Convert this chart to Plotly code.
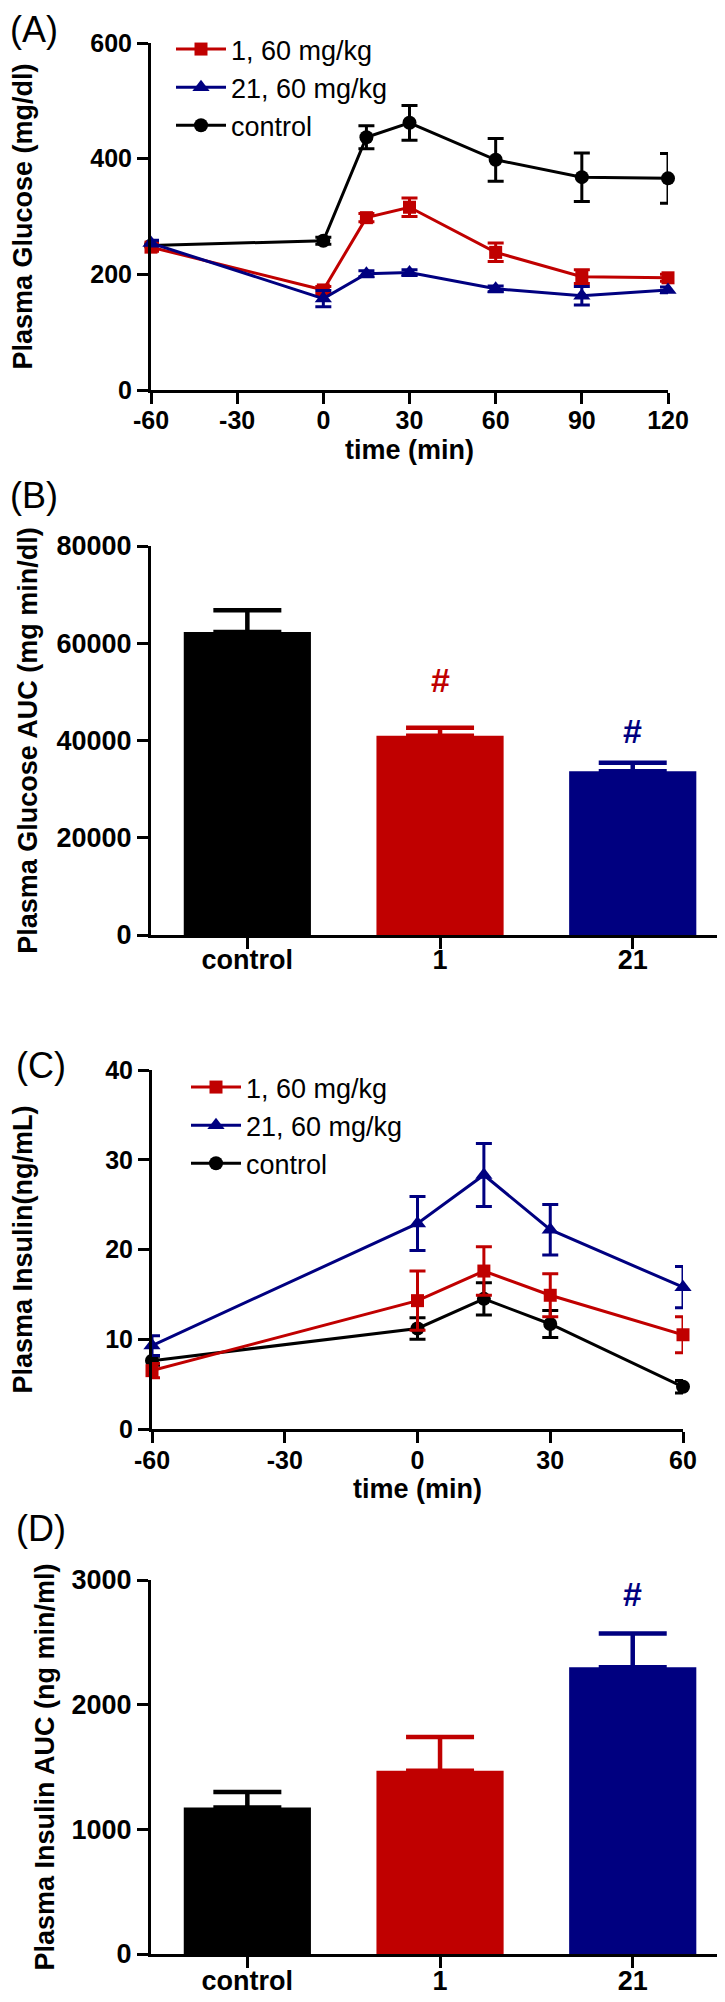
import plotly.graph_objects as go

# ---------------- data ----------------
# Panel A: plasma glucose (mg/dl)
glu_time = [-60, 0, 15, 30, 60, 90, 120]
glu_control = [250, 258, 437, 462, 398, 368, 366]
glu_control_err = [6, 6, 20, 30, 37, 42, 43]
glu_c1 = [247, 173, 298, 316, 238, 196, 194]
glu_c1_err = [7, 6, 7, 16, 16, 12, 6]
glu_c21 = [254, 158, 201, 203, 175, 163, 173]
glu_c21_err = [5, 14, 5, 5, 5, 16, 5]
glu_time_ticks = [-60, -30, 0, 30, 60, 90, 120]

# Panel B: glucose AUC (mg min/dl)
groups = ["control", "1", "21"]
glu_auc = [62300, 41000, 33700]
glu_auc_err = [4500, 1600, 1700]
glu_auc_sig_group = ["1", "21"]
glu_auc_sig_y = [52500, 42000]

# Panel C: plasma insulin (ng/mL)
ins_time = [-60, 0, 15, 30, 60]
ins_control = [7.6, 11.2, 14.5, 11.7, 4.7]
ins_control_err = [0.5, 1.2, 1.8, 1.5, 0.7]
ins_c1 = [6.5, 14.3, 17.6, 14.9, 10.5]
ins_c1_err = [0.8, 3.3, 2.7, 2.4, 2.0]
ins_c21 = [9.3, 22.9, 28.3, 22.2, 15.8]
ins_c21_err = [1.1, 3.0, 3.5, 2.8, 2.3]
ins_time_ticks = [-60, -30, 0, 30, 60]

# Panel D: insulin AUC (ng min/ml)
ins_auc = [1175, 1470, 2300]
ins_auc_err = [125, 270, 270]
ins_auc_sig_group = ["21"]
ins_auc_sig_y = [2890]

series_names = ["1, 60 mg/kg", "21, 60 mg/kg", "control"]

# ---------------- style ----------------
RED = "#C00000"
BLUE = "#000080"
BLACK = "#000000"
group_colors = {"control": BLACK, "1": RED, "21": BLUE}
FONT = "Liberation Sans"
W, H = 725, 2002


def xd(a, b):
    return [a / W, b / W]


def yd(top, bottom):
    return [1 - bottom / H, 1 - top / H]


fig = go.Figure()


def line_trace(x, y, err, name, color, symbol, size, xa, ya, legend, rank):
    return go.Scatter(
        x=x, y=y, name=name, mode="lines+markers",
        line=dict(color=color, width=3),
        marker=dict(color=color, symbol=symbol, size=size),
        error_y=dict(type="data", array=err, visible=True, color=color, thickness=3, width=8),
        xaxis=xa, yaxis=ya, legend=legend, legendrank=rank, cliponaxis=False,
    )


def bar_traces(vals, errs, xa, ya):
    out = []
    for g, v, e in zip(groups, vals, errs):
        c = group_colors[g]
        out.append(go.Bar(
            x=[g], y=[v], width=0.66, marker=dict(color=c, line=dict(width=0)),
            error_y=dict(type="data", symmetric=False, array=[e], arrayminus=[0],
                         color=c, thickness=4.5, width=34),
            xaxis=xa, yaxis=ya, showlegend=False,
        ))
    return out


# Panel A
fig.add_trace(line_trace(glu_time, glu_control, glu_control_err, series_names[2], BLACK, "circle", 14, "x", "y", "legend", 3))
fig.add_trace(line_trace(glu_time, glu_c1, glu_c1_err, series_names[0], RED, "square", 13, "x", "y", "legend", 1))
fig.add_trace(line_trace(glu_time, glu_c21, glu_c21_err, series_names[1], BLUE, "triangle-up", 15, "x", "y", "legend", 2))

# Panel B
for t in bar_traces(glu_auc, glu_auc_err, "x2", "y2"):
    fig.add_trace(t)

# Panel C
fig.add_trace(line_trace(ins_time, ins_control, ins_control_err, series_names[2], BLACK, "circle", 14, "x3", "y3", "legend2", 3))
fig.add_trace(line_trace(ins_time, ins_c1, ins_c1_err, series_names[0], RED, "square", 13, "x3", "y3", "legend2", 1))
fig.add_trace(line_trace(ins_time, ins_c21, ins_c21_err, series_names[1], BLUE, "triangle-up", 15, "x3", "y3", "legend2", 2))

# Panel D
for t in bar_traces(ins_auc, ins_auc_err, "x4", "y4"):
    fig.add_trace(t)

tickfont_s = dict(family=FONT, size=25, color=BLACK, weight="bold")
tickfont_l = dict(family=FONT, size=27, color=BLACK, weight="bold")
titlefont = dict(family=FONT, size=27, color=BLACK, weight="bold")


def ax(**kw):
    base = dict(showline=True, linewidth=3, linecolor=BLACK, ticks="outside", ticklen=11,
                tickwidth=3, tickcolor=BLACK, showgrid=False, zeroline=False,
                tickfont=tickfont_s, automargin=False, fixedrange=True)
    base.update(kw)
    return base


fig.update_layout(
    width=W, height=H, margin=dict(l=0, r=0, t=0, b=0),
    paper_bgcolor="white", plot_bgcolor="white", barmode="overlay",
    font=dict(family=FONT, color=BLACK),
    # A
    xaxis=ax(domain=xd(143, 660), range=[-60, 120], tickvals=glu_time_ticks,
             ticktext=[str(v) for v in glu_time_ticks],
             anchor="y", ticklabelstandoff=-5,
             title=dict(text="time (min)", font=titlefont, standoff=8)),
    yaxis=ax(domain=yd(35, 382), range=[0, 600], tickvals=[0, 200, 400, 600], anchor="x",
             title=dict(text="Plasma Glucose (mg/dl)", font=titlefont, standoff=62)),
    # B
    xaxis2=ax(domain=xd(143, 723), range=[-0.5, 2.51], type="category", anchor="y2",
              tickfont=tickfont_l, ticklabelstandoff=-12),
    yaxis2=ax(domain=yd(538, 927), range=[0, 80000], tickvals=[0, 20000, 40000, 60000, 80000],
              tickformat="d", tickfont=tickfont_l, anchor="x2",
              title=dict(text="Plasma Glucose AUC (mg min/dl)", font=titlefont, standoff=12)),
    # C
    xaxis3=ax(domain=xd(144, 675), range=[-60, 60], tickvals=ins_time_ticks,
              ticktext=[str(v) for v in ins_time_ticks], anchor="y3",
              ticklabelstandoff=-4,
              title=dict(text="time (min)", font=titlefont, standoff=4)),
    yaxis3=ax(domain=yd(1062, 1421), range=[0, 40], tickvals=[0, 10, 20, 30, 40], anchor="x3",
              title=dict(text="Plasma Insulin(ng/mL)", font=titlefont, standoff=65)),
    # D
    xaxis4=ax(domain=xd(143, 723), range=[-0.5, 2.51], type="category", anchor="y4",
              tickfont=tickfont_l, ticklabelstandoff=-10),
    yaxis4=ax(domain=yd(1572, 1946), range=[0, 3000], tickvals=[0, 1000, 2000, 3000],
              tickformat="d", tickfont=tickfont_l, anchor="x4",
              title=dict(text="Plasma Insulin AUC (ng min/ml)", font=titlefont, standoff=10)),
    legend=dict(x=163 / W, y=1 - 17 / H, xanchor="left", yanchor="top", bgcolor="rgba(0,0,0,0)",
                font=dict(family=FONT, size=27, color=BLACK), itemwidth=50, traceorder="normal"),
    legend2=dict(x=178 / W, y=1 - 1055 / H, xanchor="left", yanchor="top", bgcolor="rgba(0,0,0,0)",
                 font=dict(family=FONT, size=27, color=BLACK), itemwidth=50, traceorder="normal"),
    showlegend=True,
)

# significance marks (category index positions)
for g, yv in zip(glu_auc_sig_group, glu_auc_sig_y):
    fig.add_annotation(x=groups.index(g), y=yv, xref="x2", yref="y2", text="#", showarrow=False,
                       font=dict(family=FONT, size=34, color=group_colors[g], weight="bold"))
for g, yv in zip(ins_auc_sig_group, ins_auc_sig_y):
    fig.add_annotation(x=groups.index(g), y=yv, xref="x4", yref="y4", text="#", showarrow=False,
                       font=dict(family=FONT, size=34, color=group_colors[g], weight="bold"))

# panel letters
for lab, xpx, ypx in [("(A)", 0, 21), ("(B)", 0, 487), ("(C)", 6, 1057), ("(D)", 6, 1520)]:
    fig.add_annotation(x=xpx / W, y=1 - ypx / H, xref="paper", yref="paper", text=lab,
                       showarrow=False, xanchor="left", yanchor="middle",
                       font=dict(family=FONT, size=36, color=BLACK))

fig.write_html("out.html")
